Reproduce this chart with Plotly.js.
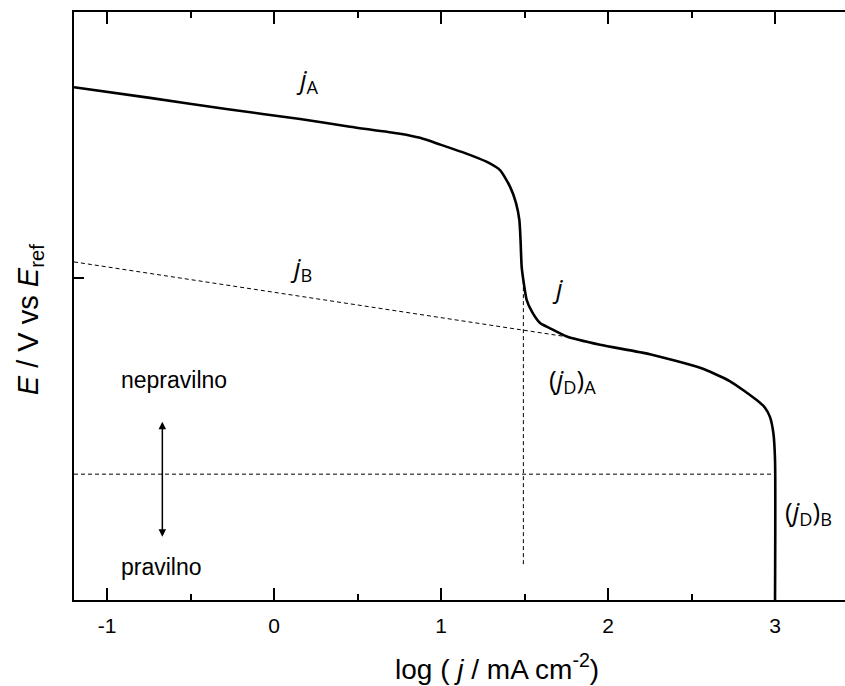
<!DOCTYPE html>
<html>
<head>
<meta charset="utf-8">
<script src="https://cdn.plot.ly/plotly-3.0.1.min.js"></script>
<style>html,body{margin:0;padding:0;background:#fff;overflow:hidden;}</style>
</head>
<body>
<div id="chart" style="width:845px;height:686px;"></div>
<script>
// Polarization curve j (log j vs E)
const curveLogJ = [-1.198, -0.743, -0.287, 0.156, 0.455, 0.754, 0.874, 1.0, 1.144, 1.275, 1.353, 1.413, 1.449, 1.469, 1.476, 1.483, 1.497, 1.513, 1.545, 1.593, 1.653, 1.753, 1.952, 2.251, 2.551, 2.731, 2.890, 2.940, 2.970, 2.990, 3.0, 3.0];
const curveE    = [0.324, 0.306, 0.287, 0.270, 0.257, 0.245, 0.238, 0.226, 0.212, 0.197, 0.183, 0.155, 0.127, 0.098, 0.064, 0.018, -0.012, -0.038, -0.058, -0.077, -0.086, -0.100, -0.114, -0.130, -0.153, -0.176, -0.208, -0.221, -0.237, -0.264, -0.310, -0.548];
// dashed line j_B
const jBLogJ = [-1.198, 1.746];
const jBE    = [0.027, -0.100];
// vertical dashed line (j_D)_A
const jDALogJ = [1.493, 1.493];
const jDAE    = [-0.004, -0.488];
// horizontal dashed line
const limLogJ = [-1.198, 3.0];
const limE    = [-0.334, -0.334];
// double arrow
const arrowLogJ = [-0.669, -0.669];
const arrowE    = [-0.245, -0.443];
// tick labels
const xTickVals = [-1, 0, 1, 2, 3];
const xTickText = ['-1', '0', '1', '2', '3'];
// labels
const labelText = ['<i>j</i><sub>A</sub>', '<i>j</i><sub>B</sub>', '<i>j</i>', '(<i>j</i><sub>D</sub>)<sub>A</sub>', '(<i>j</i><sub>D</sub>)<sub>B</sub>'];
const labelLogJ = [0.20, 0.16, 1.70, 1.79, 3.20];
const labelE    = [0.336, 0.017, -0.017, -0.174, -0.398];
const sideText  = ['nepravilno', 'pravilno'];
const sideLogJ  = [-0.93, -0.93];
const sideE     = [-0.174, -0.492];
const xTitle = 'log ( <i>j</i> / mA cm<sup>-2</sup>)';
const yTitle = '<i>E</i> / V vs <i>E</i><sub>ref</sub>';

const black = '#000';
const traces = [
  {x: curveLogJ, y: curveE, mode: 'lines', line: {color: black, width: 2.6, shape: 'spline', smoothing: 0.6}, hoverinfo: 'skip'},
  {x: jBLogJ, y: jBE, mode: 'lines', line: {color: black, width: 1, dash: '4px,3px'}, hoverinfo: 'skip'},
  {x: jDALogJ, y: jDAE, mode: 'lines', line: {color: black, width: 1, dash: '4px,3px'}, hoverinfo: 'skip'},
  {x: limLogJ, y: limE, mode: 'lines', line: {color: black, width: 1, dash: '4px,3px'}, hoverinfo: 'skip'}
];

const annotations = [];
for (let i = 0; i < labelText.length; i++) {
  annotations.push({x: labelLogJ[i], y: labelE[i], xref: 'x', yref: 'y', text: labelText[i], showarrow: false,
    font: {family: 'Open Sans, sans-serif', size: 26, color: black}});
}
for (let i = 0; i < sideText.length; i++) {
  annotations.push({x: sideLogJ[i], y: sideE[i], xref: 'x', yref: 'y', text: sideText[i], showarrow: false, xanchor: 'left',
    font: {family: 'Liberation Sans, Arial, sans-serif', size: 23, color: black}});
}
annotations.push({x: arrowLogJ[0], y: arrowE[0], ax: arrowLogJ[1], ay: arrowE[1], xref: 'x', yref: 'y', axref: 'x', ayref: 'y',
  text: '', showarrow: true, arrowhead: 2, startarrowhead: 2, arrowside: 'end+start', arrowsize: 1, startarrowsize: 1, arrowwidth: 1.5, arrowcolor: black});
annotations.push({x: 0.549, y: -0.114, xref: 'paper', yref: 'paper', xanchor: 'center', yanchor: 'middle', text: xTitle, showarrow: false,
  font: {family: 'Liberation Sans, Arial, sans-serif', size: 28, color: black}});
annotations.push({x: -0.057, y: 0.476, xref: 'paper', yref: 'paper', xanchor: 'center', yanchor: 'middle', textangle: -90, text: yTitle, showarrow: false,
  font: {family: 'Liberation Sans, Arial, sans-serif', size: 29, color: black}});

const layout = {
  width: 845, height: 686,
  margin: {l: 74, r: 0, t: 12, b: 86},
  paper_bgcolor: '#fff', plot_bgcolor: '#fff',
  showlegend: false,
  font: {family: 'Liberation Sans, Arial, sans-serif', color: black},
  xaxis: {
    range: [-1.198, 3.419], tickmode: 'array', tickvals: xTickVals, ticktext: xTickText,
    ticks: 'inside', ticklen: 12, tickwidth: 2, tickcolor: black,
    minor: {tick0: 0, dtick: 0.5, ticks: 'inside', ticklen: 6, tickwidth: 2, tickcolor: black},
    showline: true, linewidth: 2, linecolor: black, mirror: 'ticks',
    showgrid: false, zeroline: false, ticklabelstandoff: 6,
    tickfont: {size: 21, color: black}
  },
  yaxis: {
    range: [-0.548, 0.452], tickvals: [0], ticks: 'inside', ticklen: 10, tickwidth: 2, tickcolor: black,
    showticklabels: false, showline: true, linewidth: 2, linecolor: black,
    showgrid: false, zeroline: false
  },
  annotations: annotations
};

Plotly.newPlot('chart', traces, layout, {displayModeBar: false, staticPlot: true});
</script>
</body>
</html>
